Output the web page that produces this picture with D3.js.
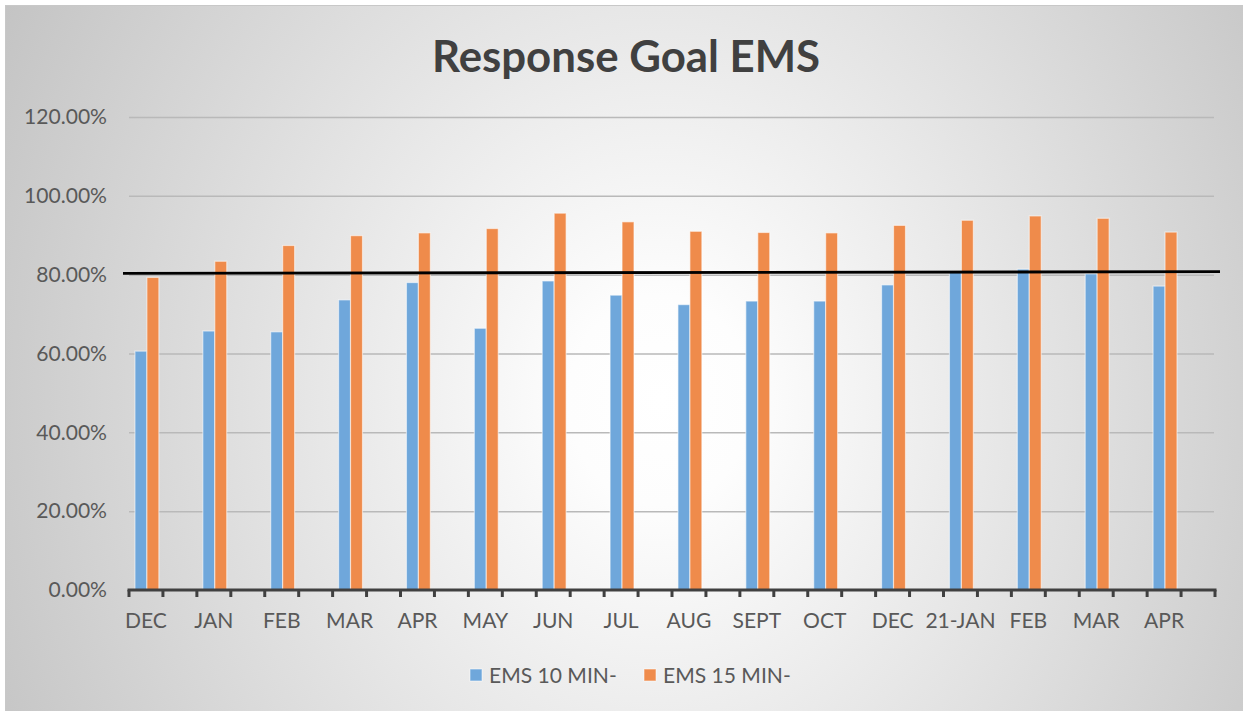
<!DOCTYPE html>
<html><head><meta charset="utf-8">
<script src="https://cdn.jsdelivr.net/npm/d3@7"></script>
<style>body{margin:0;background:#fff} svg{display:block}</style>
</head><body><svg id="c" width="1243" height="711"></svg>
<script>
// ---- data ----
const months = ["DEC","JAN","FEB","MAR","APR","MAY","JUN","JUL","AUG","SEPT","OCT","DEC","21-JAN","FEB","MAR","APR"];
const ems10 = [60.6,65.7,65.5,73.6,78.0,66.4,78.4,74.8,72.4,73.3,73.3,77.4,80.7,81.4,80.2,77.1];
const ems15 = [79.3,83.4,87.4,89.9,90.6,91.7,95.6,93.4,91.0,90.7,90.6,92.5,93.8,94.9,94.3,90.8];
const yTicks = [0,20,40,60,80,100,120];
const goalLine = [80.35, 80.75];
const seriesNames = ["EMS 10 MIN-","EMS 15 MIN-"];
const seriesColors = ["#6fa7db","#ef8b4b"];
const title = "Response Goal EMS";

const svg = d3.select("#c");
const W = 1243, H = 711;
const FONT = "Lato, 'Open Sans', sans-serif";

// font fitting helper
function fit(text, weight, target){
  const t = svg.append("text").attr("font-family",FONT).attr("font-weight",weight).attr("font-size",100).text(text);
  const w = t.node().getComputedTextLength(); t.remove();
  return 100*target/w;
}
const titleSize = fit(title, 700, 388);
const labelSize = fit("100.00%", 400, 83);

// background
const defs = svg.append("defs");
const rg = defs.append("radialGradient").attr("id","bg").attr("gradientUnits","userSpaceOnUse")
  .attr("cx",0).attr("cy",0).attr("r",760)
  .attr("gradientTransform","translate(660,400) scale(1,1.15)");
rg.append("stop").attr("offset",0).attr("stop-color","#ffffff");
rg.append("stop").attr("offset",0.12).attr("stop-color","#fdfdfd");
rg.append("stop").attr("offset",1).attr("stop-color","#c2c2c2");
svg.append("rect").attr("x",5.5).attr("y",5.5).attr("width",W).attr("height",H)
  .attr("fill","url(#bg)").attr("stroke","#c8c8c8").attr("stroke-width",1);

// scales
const slots = months.flatMap((m,i)=>["m"+i,"g"+i]);
const x = d3.scaleBand().domain(slots).range([129,1215]).padding(0);
const bw = x.bandwidth();
const xi = d3.scaleBand().domain([0,1]).range([0.175*bw, 0.88*bw]).padding(0);
const y = d3.scaleLinear().domain([0,120]).range([590,117]);

// title
svg.append("text").attr("x",626).attr("y",72).attr("text-anchor","middle")
  .attr("font-family",FONT).attr("font-weight",700).attr("font-size",titleSize)
  .attr("fill","#404040").text(title);

// gridlines
svg.append("g").attr("transform","translate(129,0)")
  .call(d3.axisLeft(y).tickValues(yTicks.filter(d=>d>0)).tickSize(-(1214-129)).tickFormat(""))
  .call(g=>g.select(".domain").remove())
  .call(g=>g.selectAll("line").attr("stroke","#b9b9b9").attr("stroke-width",1.5));

// y labels
svg.append("g").attr("transform","translate(129,0)")
  .call(d3.axisLeft(y).tickValues(yTicks).tickSize(0).tickPadding(22).tickFormat(d=>d.toFixed(2)+"%"))
  .call(g=>g.select(".domain").remove())
  .call(g=>g.selectAll("text").attr("font-family",FONT).attr("font-size",labelSize).attr("fill","#595959"));

// bars
const data = months.map((m,i)=>({slot:"m"+i, vals:[ems10[i], ems15[i]]}));
const grp = svg.append("g").selectAll("g").data(data).join("g")
  .attr("transform",d=>`translate(${x(d.slot)},0)`);
grp.selectAll("rect").data(d=>d.vals.map((v,k)=>({v,k}))).join("rect")
  .attr("x",d=>xi(d.k)).attr("width",xi.bandwidth())
  .attr("y",d=>y(d.v)).attr("height",d=>y(0)-y(d.v))
  .attr("fill",d=>seriesColors[d.k])
  .attr("stroke","rgba(255,255,255,0.55)").attr("stroke-width",1.2);

// x axis labels
const labelOf = {}; months.forEach((m,i)=>labelOf["m"+i]=m);
svg.append("g").attr("transform","translate(0,590)")
  .call(d3.axisBottom(x).tickValues(slots.filter(s=>s[0]==="m")).tickSize(0).tickPadding(26).tickFormat(s=>labelOf[s]))
  .call(g=>g.select(".domain").remove())
  .call(g=>g.selectAll("text").attr("font-family",FONT).attr("font-size",labelSize).attr("fill","#595959").attr("dy","0.55em"));

// axis line + boundary ticks
const bounds = slots.map(s=>x(s)).concat([x.range()[1]]);
const ax = svg.append("g");
ax.selectAll("line.tk").data(bounds).join("line").attr("class","tk")
  .attr("x1",d=>d).attr("x2",d=>d).attr("y1",y(0)).attr("y2",y(0)+7)
  .attr("stroke","#404040").attr("stroke-width",3);
ax.append("line").attr("x1",x.range()[0]-1.5).attr("x2",x.range()[1]+1.5)
  .attr("y1",y(0)).attr("y2",y(0)).attr("stroke","#404040").attr("stroke-width",3);

// goal line
svg.append("line").attr("x1",x.range()[0]-6).attr("x2",x.range()[1]+5)
  .attr("y1",y(goalLine[0])).attr("y2",y(goalLine[1]))
  .attr("stroke","#000").attr("stroke-width",2.8);

// legend
const legX = [470, 644];
const lg = svg.append("g").selectAll("g").data(seriesNames).join("g");
lg.append("rect").attr("x",(d,i)=>legX[i]).attr("y",669).attr("width",12).attr("height",12)
  .attr("fill",(d,i)=>seriesColors[i]).attr("stroke","rgba(255,255,255,0.55)");
lg.append("text").attr("x",(d,i)=>legX[i]+19).attr("y",683)
  .attr("font-family",FONT).attr("font-size",labelSize).attr("fill","#595959").text(d=>d);
</script></body></html>
